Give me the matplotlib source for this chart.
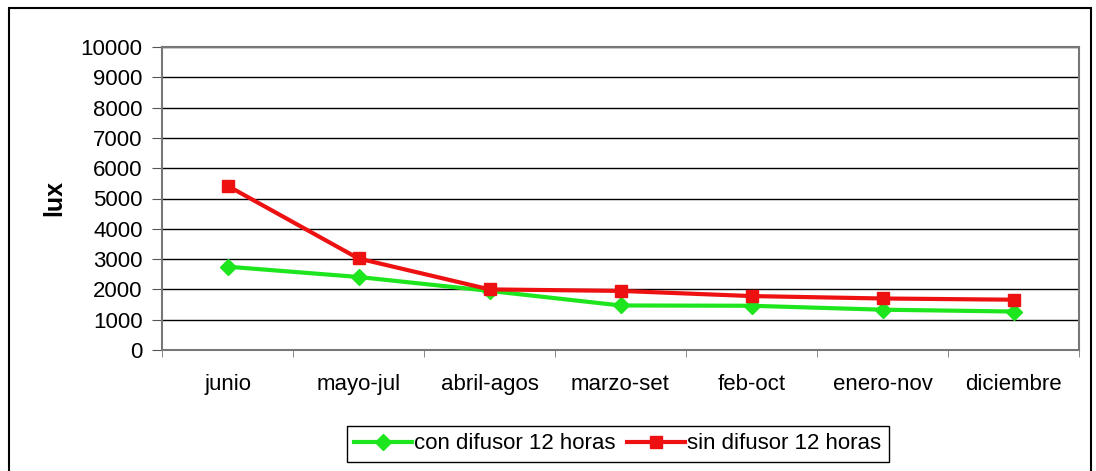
import matplotlib.pyplot as plt
from matplotlib.patches import Rectangle
import numpy as np

# --- data ---
months = ['junio', 'mayo-jul', 'abril-agos', 'marzo-set', 'feb-oct', 'enero-nov', 'diciembre']
con_difusor = [2750, 2410, 1950, 1470, 1460, 1330, 1270]
sin_difusor = [5420, 3020, 2000, 1950, 1780, 1700, 1660]
y_ticks = list(range(0, 10001, 1000))

GREEN = '#1ee61e'
RED = '#ee1111'

plt.rcParams['font.family'] = ['Liberation Sans', 'DejaVu Sans']

fig = plt.figure(figsize=(10.96, 4.71), dpi=100)
ax = fig.add_axes([162 / 1096, 1 - 350 / 471, (1079 - 162) / 1096, (350 - 47) / 471])

x = np.arange(len(months))
ax.plot(x, con_difusor, color=GREEN, lw=3, marker='D', ms=8, mec=GREEN, mfc=GREEN,
        label='con difusor 12 horas', zorder=3)
ax.plot(x, sin_difusor, color=RED, lw=3, marker='s', ms=9, mec=RED, mfc=RED,
        label='sin difusor 12 horas', zorder=4)

ax.set_xlim(-0.5, len(months) - 0.5)
ax.set_ylim(0, 10000)
ax.set_yticks(y_ticks)
ax.set_yticklabels([str(v) for v in y_ticks], fontsize=16)
ax.set_xticks(x)
ax.set_xticklabels(months, fontsize=16)
ax.set_xticks(np.arange(len(months) + 1) - 0.5, minor=True)
ax.tick_params(axis='x', which='major', length=0, pad=17)
ax.tick_params(axis='x', which='minor', length=5, direction='out', color='#777777')
ax.tick_params(axis='y', length=7, direction='out', color='#555555', pad=7)

ax.grid(axis='y', color='black', lw=1)
ax.set_axisbelow(True)
for s in ax.spines.values():
    s.set_color('#777777')
    s.set_linewidth(1.5)

ax.set_ylabel('lux', fontsize=18, fontweight='bold', labelpad=10)

leg = ax.legend(loc='center', bbox_to_anchor=(0.497, -0.31), ncol=2, fontsize=16,
                frameon=True, fancybox=False, edgecolor='black', framealpha=1,
                handlelength=2.6, handletextpad=0.1, columnspacing=0.5,
                borderpad=0.35)
leg.get_frame().set_linewidth(1)

# outer chart frame
fig.patches.append(Rectangle((9 / 1096, -0.02), (1091 - 9) / 1096, 1.02 - 8 / 471,
                             transform=fig.transFigure, fill=False, ec='black', lw=1.5))

fig.savefig('out.png', dpi=100)
